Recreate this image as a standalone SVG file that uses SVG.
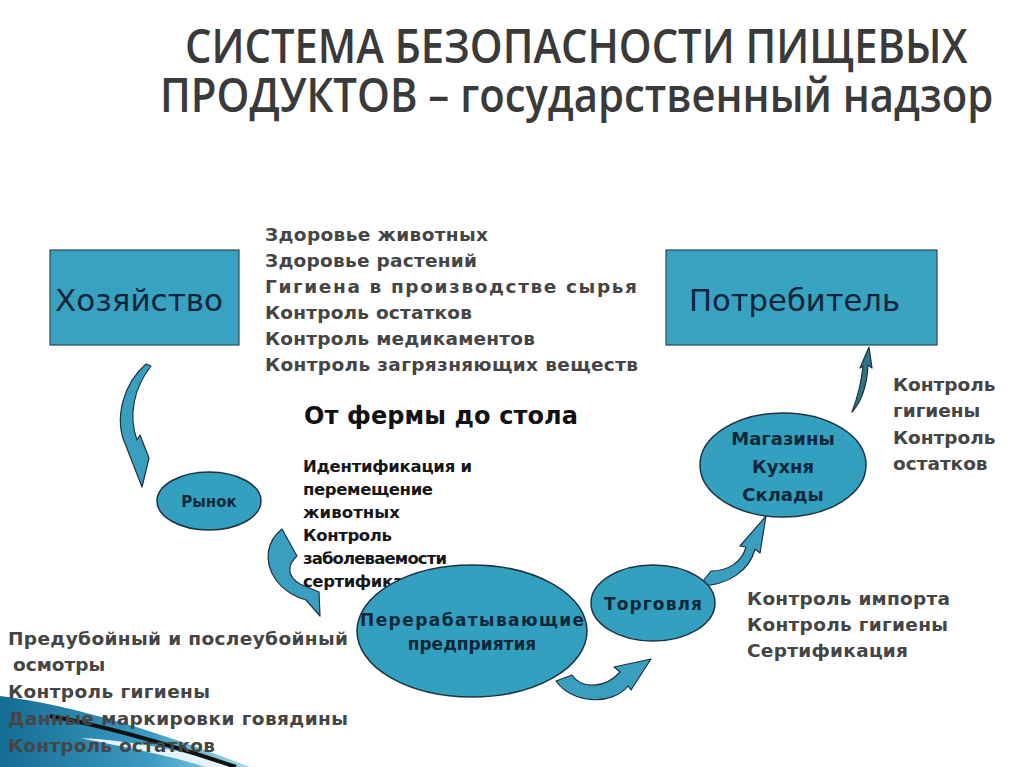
<svg xmlns="http://www.w3.org/2000/svg" width="1024" height="767" viewBox="0 0 1024 767">
<defs>
<style>
.title{font-family:"Open Sans","DejaVu Sans",sans-serif;font-weight:600;fill:#3a3a3a;font-size:47px}
.box{fill:#37a3c1;stroke:#2a4a5a;stroke-width:1.2}
.ell{fill:#33a0bf;stroke:#1d3442;stroke-width:1.5}
.boxt{font-family:"DejaVu Sans",Verdana,sans-serif;font-size:30px;fill:#12243a}
.lst{font-family:"DejaVu Sans",Verdana,sans-serif;font-weight:bold;font-size:18.5px;fill:#454545}
.idt{font-family:"DejaVu Sans",Verdana,sans-serif;font-weight:bold;font-size:16.5px;fill:#161616}
.et{font-family:"DejaVu Sans",Verdana,sans-serif;font-weight:bold;font-size:17px;fill:#10283a;text-anchor:middle}
.arr{fill:#3a9fbf;stroke:#1c3340;stroke-width:1.2;stroke-linejoin:round}
</style>
<linearGradient id="sw" x1="0" y1="0" x2="1" y2="0">
<stop offset="0" stop-color="#156c94"/>
<stop offset="0.6" stop-color="#3b9cc2"/>
<stop offset="1" stop-color="#a9d7e8"/>
</linearGradient>
</defs>
<rect width="1024" height="767" fill="#ffffff"/>

<g id="swoosh">
<path d="M0 696 C80 706 170 736 250 767 L0 767 Z" fill="url(#sw)"/>
<path d="M80 738 C130 748 180 758 205 767 L238 767 C190 752 130 740 80 738 Z" fill="#e4f3f9"/>
<path d="M50 716 C115 728 180 748 236 767" fill="none" stroke="#111" stroke-width="4"/>
</g>

<g id="title">
<text class="title" transform="translate(185 63) scale(0.86 1)" x="0" y="0" textLength="910" lengthAdjust="spacingAndGlyphs">СИСТЕМА БЕЗОПАСНОСТИ ПИЩЕВЫХ</text>
<text class="title" transform="translate(160 112) scale(0.86 1)" x="0" y="0" textLength="969" lengthAdjust="spacingAndGlyphs">ПРОДУКТОВ – государственный надзор</text>
</g>

<g id="connectors">
<path class="arr" d="M146 364 C124 383 113 418 126 446 L142 487 L149 458 L140 435 L137 440 C128 415 134 388 151 366 Z"/>
<path class="arr" d="M282 529 C268 540 262 560 276 580 C285 592 298 598 306 600 L320 616 L319 592 L300 584 C288 577 286 566 297 556 Z"/>
<path class="arr" d="M556 681 C572 704 612 706 628 686 L631 690 L651 659 L614 667 L620 672 C606 688 582 690 572 675 Z"/>
<path class="arr" d="M699 586 C728 586 750 570 755 549 L760 553 L766 516 L740 546 L746 547 C742 562 728 571 711 571 Z"/>
<path class="arr" style="fill:#2f7487" d="M869 347 L872 368 L868 365 C867 387 862 401 852 412 C857 399 861 386 863 366 L860 368 Z"/>
</g>

<g id="farm">
<rect class="box" x="50" y="250" width="189" height="95"/>
<text class="boxt" x="55" y="311" textLength="168" lengthAdjust="spacingAndGlyphs">Хозяйство</text>
</g>

<g id="consumer">
<rect class="box" x="666" y="250" width="271" height="95"/>
<text class="boxt" x="689" y="311" textLength="211" lengthAdjust="spacingAndGlyphs">Потребитель</text>
</g>

<g id="farm-list">
<text class="lst" x="265" y="241" textLength="223">Здоровье животных</text>
<text class="lst" x="265" y="267" textLength="212">Здоровье растений</text>
<text class="lst" x="265" y="293" textLength="372">Гигиена в производстве сырья</text>
<text class="lst" x="265" y="319" textLength="207">Контроль остатков</text>
<text class="lst" x="265" y="345" textLength="270">Контроль медикаментов</text>
<text class="lst" x="265" y="371" textLength="373">Контроль загрязняющих веществ</text>
</g>

<g id="farm-to-table">
<text x="304" y="424" textLength="274" style="font-family:'DejaVu Sans',Verdana,sans-serif;font-weight:bold;font-size:24px;fill:#111">От фермы до стола</text>
</g>

<g id="market">
<ellipse class="ell" cx="209" cy="501" rx="52" ry="29"/>
<text class="et" x="209" y="507" style="font-size:15px">Рынок</text>
</g>

<g id="market-list">
<text class="idt" x="303" y="472" textLength="169">Идентификация и</text>
<text class="idt" x="303" y="495" textLength="130">перемещение</text>
<text class="idt" x="303" y="518" textLength="97">животных</text>
<text class="idt" x="303" y="541" textLength="89">Контроль</text>
<text class="idt" x="303" y="564" textLength="144">заболеваемости</text>
<text class="idt" x="303" y="587" textLength="134">сертификация</text>
</g>

<g id="processing">
<ellipse class="ell" cx="472" cy="631" rx="115" ry="66"/>
<text class="et" x="472" y="626" textLength="224">Перерабатывающие</text>
<text class="et" x="472" y="650">предприятия</text>
</g>

<g id="processing-list">
<text class="lst" x="8" y="645" textLength="340">Предубойный и послеубойный</text>
<text class="lst" x="13" y="671">осмотры</text>
<text class="lst" x="8" y="698" textLength="202">Контроль гигиены</text>
<text class="lst" x="8" y="725" textLength="340">Данные маркировки говядины</text>
<text class="lst" x="8" y="752" textLength="207">Контроль остатков</text>
</g>

<g id="trade">
<ellipse class="ell" cx="653" cy="603" rx="62" ry="38"/>
<text class="et" x="653" y="610" textLength="98">Торговля</text>
</g>

<g id="trade-list">
<text class="lst" x="747" y="605" textLength="203">Контроль импорта</text>
<text class="lst" x="747" y="631" textLength="201">Контроль гигиены</text>
<text class="lst" x="747" y="657" textLength="161">Сертификация</text>
</g>

<g id="shops">
<ellipse class="ell" cx="783" cy="465" rx="83" ry="52"/>
<text class="et" x="783" y="445" style="font-size:18px">Магазины</text>
<text class="et" x="783" y="473" style="font-size:18px">Кухня</text>
<text class="et" x="783" y="501" style="font-size:18px">Склады</text>
</g>

<g id="consumer-list">
<text class="lst" x="893" y="391">Контроль</text>
<text class="lst" x="893" y="417">гигиены</text>
<text class="lst" x="893" y="444">Контроль</text>
<text class="lst" x="893" y="470">остатков</text>
</g>
</svg>
